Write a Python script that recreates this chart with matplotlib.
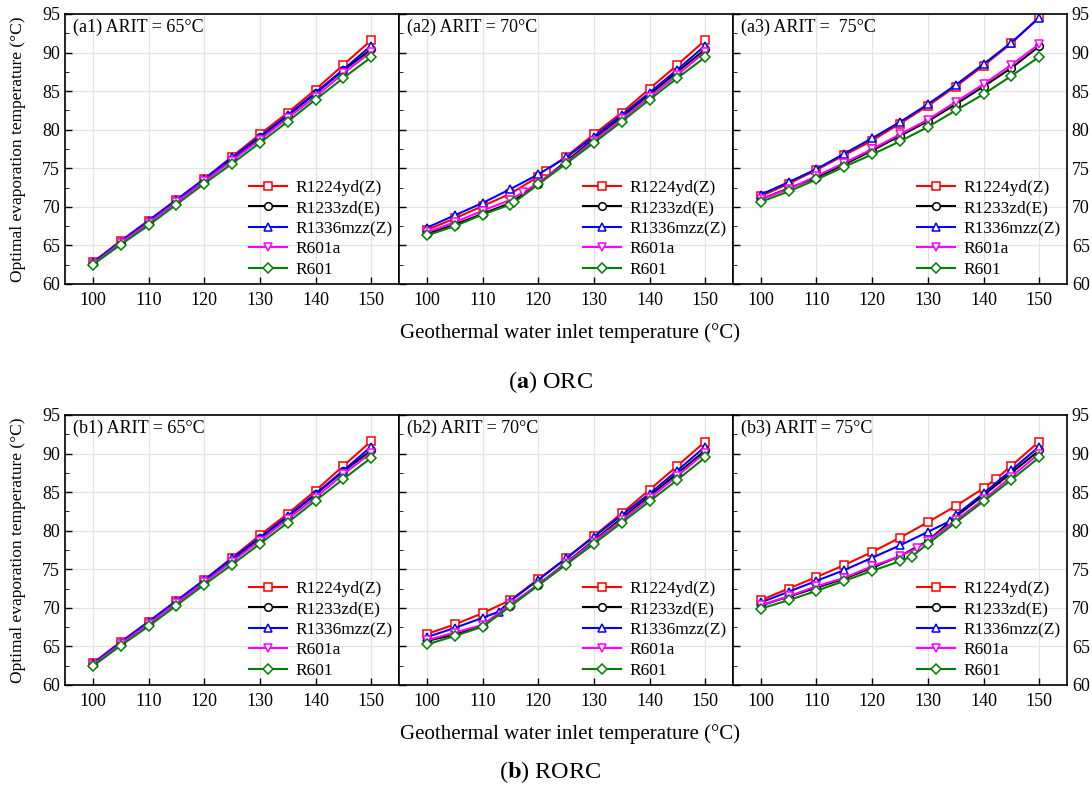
import numpy as np
import matplotlib
matplotlib.use("Agg")
import matplotlib.pyplot as plt
from matplotlib.ticker import MultipleLocator

plt.rcParams['font.family'] = ['Liberation Serif', 'DejaVu Serif']
plt.rcParams['mathtext.fontset'] = 'stix'

fluids = ["R1224yd(Z)", "R1233zd(E)", "R1336mzz(Z)", "R601a", "R601"]
colors = ["#ff0000", "#000000", "#0000ff", "#ff00ff", "#008000"]
markers = ["s", "o", "^", "v", "D"]

X = [100, 105, 110, 115, 120, 125, 130, 135, 140, 145, 150]

# ---- ORC, ARIT = 65 C
a1_x = [X, X, X, X, X]
a1_y = [
    [62.8, 65.6, 68.2, 70.9, 73.6, 76.5, 79.4, 82.2, 85.2, 88.4, 91.6],
    [62.7, 65.4, 68.0, 70.7, 73.4, 76.2, 79.0, 81.8, 84.7, 87.7, 90.4],
    [62.8, 65.5, 68.2, 70.9, 73.6, 76.4, 79.1, 81.9, 84.8, 87.8, 90.9],
    [62.6, 65.3, 67.9, 70.6, 73.3, 76.0, 78.7, 81.5, 84.3, 87.3, 90.1],
    [62.5, 65.1, 67.6, 70.3, 73.0, 75.6, 78.3, 81.05, 83.9, 86.7, 89.4],
]

# ---- ORC, ARIT = 70 C
a2_x = [
    [100, 105, 110, 115, 120, 121.4, 125, 130, 135, 140, 145, 150],
    X,
    X,
    [100, 105, 110, 115, 117.3, 120, 125, 130, 135, 140, 145, 150],
    [100, 105, 110, 115, 115.7, 120, 125, 130, 135, 140, 145, 150],
]
a2_y = [
    [67.0, 68.5, 70.1, 71.7, 73.9, 74.7, 76.5, 79.4, 82.2, 85.3, 88.4, 91.6],
    [66.5, 67.7, 69.1, 70.5, 73.0, 75.9, 78.8, 81.65, 84.55, 87.5, 90.4],
    [67.3, 68.9, 70.5, 72.3, 74.2, 76.4, 79.1, 81.9, 84.8, 87.8, 90.9],
    [66.7, 68.0, 69.5, 70.9, 71.9, 73.1, 75.7, 78.6, 81.35, 84.25, 87.1, 90.1],
    [66.3, 67.5, 69.0, 70.3, 70.6, 72.9, 75.6, 78.3, 81.05, 83.9, 86.7, 89.4],
]

# ---- ORC, ARIT = 75 C
a3_x = [X, X, X, X, X]
a3_y = [
    [71.4, 73.0, 74.8, 76.7, 78.6, 80.8, 83.1, 85.6, 88.3, 91.2, 94.6],
    [71.0, 72.4, 73.8, 75.5, 77.3, 79.2, 81.1, 83.3, 85.6, 88.0, 90.8],
    [71.6, 73.2, 74.9, 76.9, 78.9, 81.0, 83.3, 85.8, 88.5, 91.3, 94.5],
    [71.0, 72.3, 74.0, 75.7, 77.5, 79.4, 81.3, 83.6, 85.9, 88.4, 91.1],
    [70.65, 72.0, 73.55, 75.2, 76.8, 78.5, 80.35, 82.5, 84.6, 86.97, 89.44],
]

# ---- RORC, ARIT = 65 C
b1_x = [X, X, X, X, X]
b1_y = [
    [62.8, 65.6, 68.2, 70.9, 73.6, 76.5, 79.4, 82.2, 85.2, 88.4, 91.6],
    [62.7, 65.4, 68.0, 70.7, 73.4, 76.2, 79.0, 81.8, 84.7, 87.7, 90.4],
    [62.8, 65.5, 68.2, 70.9, 73.6, 76.4, 79.1, 81.9, 84.8, 87.8, 90.9],
    [62.6, 65.3, 67.9, 70.6, 73.3, 76.0, 78.7, 81.5, 84.3, 87.3, 90.1],
    [62.45, 65.1, 67.6, 70.3, 73.0, 75.6, 78.3, 81.05, 83.9, 86.7, 89.45],
]

# ---- RORC, ARIT = 70 C
b2_x = [
    X,
    X,
    [100, 105, 110, 112.9, 115, 120, 125, 130, 135, 140, 145, 150],
    X,
    X,
]
b2_y = [
    [66.6, 67.85, 69.3, 71.0, 73.7, 76.4, 79.3, 82.25, 85.3, 88.4, 91.55],
    [65.7, 66.55, 67.6, 70.3, 73.0, 75.85, 78.75, 81.6, 84.5, 87.4, 90.4],
    [66.2, 67.4, 68.7, 69.5, 70.9, 73.6, 76.4, 79.2, 82.0, 84.8, 87.8, 90.9],
    [65.8, 66.8, 67.8, 70.45, 73.0, 75.8, 78.6, 81.35, 84.2, 87.1, 90.1],
    [65.25, 66.35, 67.55, 70.2, 72.9, 75.6, 78.3, 81.05, 83.8, 86.6, 89.5],
]

# ---- RORC, ARIT = 75 C
b3_x = [
    [100, 105, 110, 115, 120, 125, 130, 135, 140, 142.2, 145, 150],
    X,
    [100, 105, 110, 115, 120, 125, 130, 134, 135, 140, 145, 150],
    [100, 105, 110, 115, 120, 125, 128, 130, 135, 140, 145, 150],
    [100, 105, 110, 115, 120, 125, 127.1, 130, 135, 140, 145, 150],
]
b3_y = [
    [71.0, 72.5, 74.0, 75.55, 77.25, 79.1, 81.1, 83.2, 85.5, 86.7, 88.4, 91.55],
    [70.3, 71.45, 72.6, 73.8, 75.2, 76.7, 78.7, 81.8, 84.6, 87.5, 90.4],
    [70.7, 72.1, 73.5, 74.9, 76.5, 78.1, 79.85, 81.25, 82.0, 84.85, 87.85, 90.9],
    [70.35, 71.5, 72.8, 73.9, 75.4, 76.7, 77.7, 78.65, 81.35, 84.05, 87.0, 90.0],
    [69.9, 71.0, 72.2, 73.5, 74.8, 76.05, 76.65, 78.3, 81.05, 83.8, 86.6, 89.5],
]

panels = [
    ("(a1) ARIT = 65°C", a1_x, a1_y),
    ("(a2) ARIT = 70°C", a2_x, a2_y),
    ("(a3) ARIT =  75°C", a3_x, a3_y),
    ("(b1) ARIT = 65°C", b1_x, b1_y),
    ("(b2) ARIT = 70°C", b2_x, b2_y),
    ("(b3) ARIT = 75°C", b3_x, b3_y),
]

W, H = 1092, 790
fig = plt.figure(figsize=(W / 100, H / 100), dpi=100)

lefts = [65, 399, 733]
tops = [14, 415]
pw, ph = 334, 270

for k, (title, xs, ys) in enumerate(panels):
    row, col = divmod(k, 3)
    ax = fig.add_axes([lefts[col] / W, 1 - (tops[row] + ph) / H, pw / W, ph / H])
    for i in range(5):
        ax.plot(xs[i], ys[i], color=colors[i], marker=markers[i], ms=5.5,
                mfc="white", mec=colors[i], mew=1.1, lw=1.5, label=fluids[i])
    ax.set_xlim(95, 155)
    ax.set_ylim(60, 95)
    ax.set_xticks(range(100, 151, 10))
    ax.set_yticks(range(60, 96, 5))
    ax.yaxis.set_minor_locator(MultipleLocator(2.5))
    ax.grid(True, color="#e3e3e3", lw=0.9)
    ax.set_axisbelow(True)
    ax.tick_params(direction="in", labelsize=13, length=5, width=1)
    ax.tick_params(which="minor", direction="in", length=3)
    if col == 0:
        ax.tick_params(axis="y", labelleft=True)
    elif col == 2:
        ax.tick_params(axis="y", labelleft=False, labelright=True, right=False)
    else:
        ax.tick_params(axis="y", labelleft=False)
    ax.tick_params(axis="x", pad=6)
    for s in ax.spines.values():
        s.set_linewidth(1.2)
    ax.text(0.025, 0.95, title, transform=ax.transAxes, fontsize=13,
            va="center", ha="left")
    ax.legend(loc="lower right", bbox_to_anchor=(1.0, 0.0), frameon=False,
              fontsize=12.5, handlelength=2.2, handletextpad=0.5,
              labelspacing=0.25, borderaxespad=0.15, borderpad=0.2)

for row in range(2):
    top = tops[row]
    fig.text(18 / W, 1 - (top + ph / 2) / H, "Optimal evaporation temperature (°C)",
             rotation=90, ha="center", va="center", fontsize=12.5)
    fig.text(570 / W, 1 - (top + 319) / H, "Geothermal water inlet temperature (°C)",
             ha="center", va="center", fontsize=15)
fig.text(550 / W, 1 - 382 / H, r"(${\bf a}$) ORC", ha="center", va="center", fontsize=17.5)
fig.text(550 / W, 1 - 772 / H, r"(${\bf b}$) RORC", ha="center", va="center", fontsize=17.5)

fig.savefig("out.png", dpi=100)
